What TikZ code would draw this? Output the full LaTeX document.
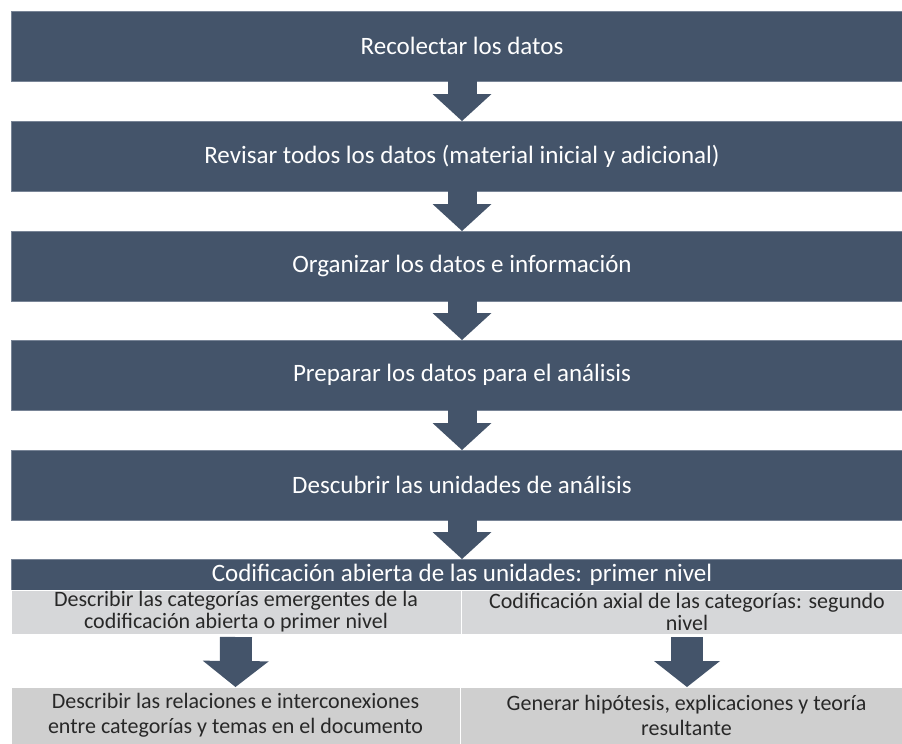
\documentclass[tikz,border=0pt]{standalone}
\usepackage{fontspec}
\setmainfont{Carlito}
\usetikzlibrary{arrows.meta,calc}
\definecolor{slate}{RGB}{68,84,106}
\definecolor{slateedge}{RGB}{120,132,150}
\definecolor{lgray}{RGB}{214,215,217}
\definecolor{mgray}{RGB}{207,207,207}
\definecolor{gtext}{RGB}{40,40,40}
\begin{document}
\begin{tikzpicture}[x=1pt,y=-1pt,
  darkbox/.style={fill=slate, draw=slateedge, line width=0.6pt, text=white,
    font=\fontsize{25}{28}\selectfont, minimum width=902pt, minimum height=70pt,
    inner sep=0pt, outer sep=0pt},
  barbox/.style={fill=slate, draw=slateedge, line width=0.6pt, text=white,
    font=\fontsize{25}{28}\selectfont, minimum width=902pt, minimum height=31pt,
    inner sep=0pt, outer sep=0pt},
  graybox/.style={fill=#1, draw=white, line width=1pt, text=gtext,
    align=center, inner sep=0pt, outer sep=0pt},
  mainarrow/.style={draw=slate, line width=29pt,
    -{Triangle[width=59pt,length=27pt,line width=0pt]}},
  subarrow/.style={draw=slate, line width=32pt,
    -{Triangle[width=66pt,length=26pt,line width=0pt]}}
]
\useasboundingbox (0,0) rectangle (902,744);
\fill[white] (0,0) rectangle (902,744);
\clip (0,0) rectangle (902,744);

\node[darkbox] (b1) at (462,46) {Recolectar los datos};
\node[darkbox] (b2) at (462,156) {Revisar todos los datos (material inicial y adicional)};
\node[darkbox] (b3) at (462,266) {Organizar los datos e información};
\node[darkbox] (b4) at (462,375) {Preparar los datos para el análisis};
\node[darkbox] (b5) at (462,485) {Descubrir las unidades de análisis};
\node[barbox] (bar) at (462,574.5) {Codificación abierta de las unidades: primer nivel};

\node[graybox=lgray, font=\fontsize{22}{22}\selectfont, minimum width=450pt, minimum height=44pt] (g1l) at (236,612)
  {Describir las categorías emergentes de la\\codificación abierta o primer nivel};
\node[graybox=lgray, font=\fontsize{22}{22}\selectfont, minimum width=452pt, minimum height=44pt] (g1r) at (687,612)
  {Codificación axial de las categorías: segundo\\nivel};
\node[graybox=mgray, font=\fontsize{22}{25}\selectfont, minimum width=449pt, minimum height=57pt] (g2l) at (235.5,715.5)
  {Describir las relaciones e interconexiones\\entre categorías y temas en el documento};
\node[graybox=mgray, font=\fontsize{22}{25}\selectfont, minimum width=453pt, minimum height=57pt] (g2r) at (686.5,715.5)
  {Generar hipótesis, explicaciones y teoría\\resultante};

\draw[mainarrow] (b1.south) -- (b2.north);
\draw[mainarrow] (b2.south) -- (b3.north);
\draw[mainarrow] (b3.south) -- (b4.north);
\draw[mainarrow] (b4.south) -- (b5.north);
\draw[mainarrow] (b5.south) -- (bar.north);

\draw[subarrow] ($(g1l.south)+(0,3)$) -- (g2l.north);
\draw[subarrow] ($(g1r.south)+(0,3)$) -- ($(g2r.north)+(0.5,0)$);
\end{tikzpicture}
\end{document}
